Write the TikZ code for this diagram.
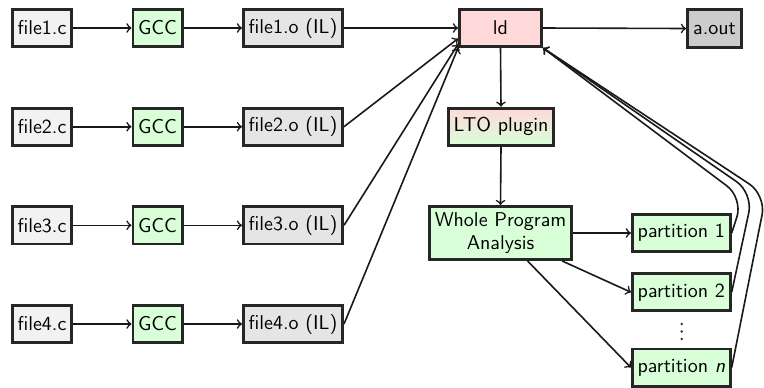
\documentclass[tikz,border=0pt]{standalone}
\begin{document}
\begin{tikzpicture}[x=0.5pt,y=-0.5pt,
  box/.style={draw=black!85, line width=1.4pt, inner sep=0pt, minimum height=18.6pt,
    font=\sffamily\fontsize{10}{11.5}\selectfont},
  srcbox/.style={box, fill=black!5, minimum width=29.6pt},
  gccbox/.style={box, fill=green!15, minimum width=24.6pt},
  objbox/.style={box, fill=black!10, minimum width=49.6pt},
  partbox/.style={box, fill=green!15, minimum width=49pt},
  arr/.style={->, line width=0.8pt, black!90},
  dot/.style={fill=black!80, circle, inner sep=0pt, minimum size=1.3pt},
]
\useasboundingbox (0,0) rectangle (764,387);

\foreach \i/\y in {1/28,2/126.7,3/225.3,4/324}{
  \node[srcbox] (c\i) at (42,\y) {file\i.c};
  \node[gccbox] (g\i) at (157.5,\y) {GCC};
  \node[objbox] (o\i) at (293,\y) {file\i.o (IL)};
  \draw[arr] (c\i.east) -- (g\i.west);
  \draw[arr] (g\i.east) -- (o\i.west);
}

\node[box, fill=red!15, minimum width=41.1pt] (ld) at (500.5,28) {ld};
\node[box, fill=black!20, minimum width=27.1pt, minimum height=19.1pt] (aout) at (714.5,28.5) {a.out};
\node[box, top color=red!15, bottom color=green!15, minimum width=52.6pt] (lto) at (501,126.7) {LTO plugin};
\node[box, fill=green!15, minimum width=71.1pt, minimum height=26.6pt, align=center] (wpa) at (500.5,233) {Whole Program\\Analysis};
\node[partbox] (p1) at (681.3,233) {partition 1};
\node[partbox] (p2) at (681.3,292.2) {partition 2};
\node[partbox] (pn) at (681.3,367.5) {partition \textit{n}};
\node[dot] (d1) at (681.7,324) {};
\node[dot] (d2) at (681.7,331.5) {};
\node[dot] (d3) at (681.7,339) {};

\draw[arr] (o1.east) -- (ld.west);
\draw[arr] (o2.east) -- (ld.194);
\draw[arr] (o3.east) -- (ld.201);
\draw[arr] (o4.east) -- (ld.south west);
\draw[arr] (ld.east) -- (aout.west);
\draw[arr] (ld.south) -- (lto.north);
\draw[arr] (lto.south) -- (wpa.north);
\draw[arr] (wpa.east) -- (p1.west);
\draw[arr] (wpa) -- (p2.west);
\draw[arr] (wpa) -- (pn.west);

\coordinate (k1) at (743,198);
\coordinate (k2) at (753,193);
\coordinate (kn) at (766,195);
\draw[arr, rounded corners=10pt] (p1.east) -- (k1) -- (ld.south east);
\draw[arr, rounded corners=10pt] (p2.east) -- (k2) -- (ld.south east);
\draw[arr, rounded corners=10pt] (pn.east) -- (kn) -- (ld.south east);
\end{tikzpicture}
\end{document}
